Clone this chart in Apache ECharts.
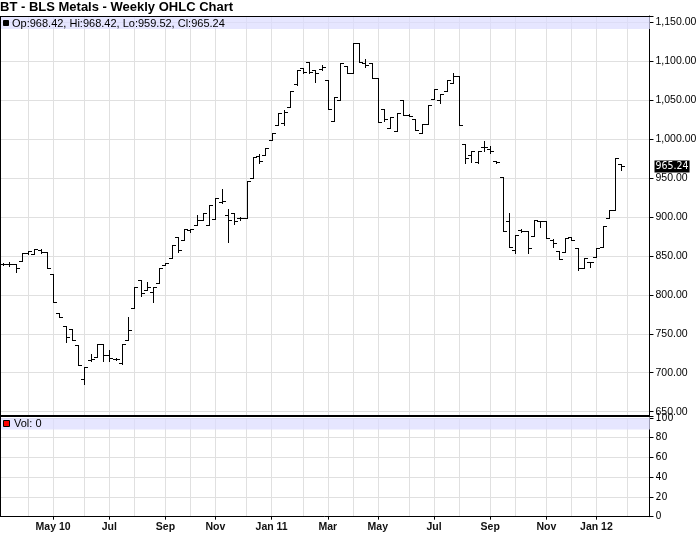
<!DOCTYPE html>
<html><head><meta charset="utf-8">
<script src="https://cdn.jsdelivr.net/npm/echarts@6/dist/echarts.min.js"></script>
<style>html,body{margin:0;padding:0;background:#fff}#c{width:700px;height:536px}</style>
</head><body><div id="c"></div>
<script>
const weekDates = [
'2010-03-08','2010-03-15','2010-03-22','2010-03-29','2010-04-05','2010-04-12','2010-04-19','2010-04-26',
'2010-05-03','2010-05-10','2010-05-17','2010-05-24','2010-05-31','2010-06-07','2010-06-14','2010-06-21','2010-06-28',
'2010-07-05','2010-07-12','2010-07-19','2010-07-26','2010-08-02','2010-08-09','2010-08-16','2010-08-23','2010-08-30',
'2010-09-06','2010-09-13','2010-09-20','2010-09-27','2010-10-04','2010-10-11','2010-10-18','2010-10-25',
'2010-11-01','2010-11-08','2010-11-15','2010-11-22','2010-11-29','2010-12-06','2010-12-13','2010-12-20','2010-12-27',
'2011-01-03','2011-01-10','2011-01-17','2011-01-24','2011-01-31','2011-02-07','2011-02-14','2011-02-21','2011-02-28',
'2011-03-07','2011-03-14','2011-03-21','2011-03-28','2011-04-04','2011-04-11','2011-04-18','2011-04-25',
'2011-05-02','2011-05-09','2011-05-16','2011-05-23','2011-05-30','2011-06-06','2011-06-13','2011-06-20','2011-06-27',
'2011-07-04','2011-07-11','2011-07-18','2011-07-25','2011-08-01','2011-08-08','2011-08-15','2011-08-22','2011-08-29',
'2011-09-05','2011-09-12','2011-09-19','2011-09-26','2011-10-03','2011-10-10','2011-10-17','2011-10-24','2011-10-31',
'2011-11-07','2011-11-14','2011-11-21','2011-11-28','2011-12-05','2011-12-12','2011-12-19','2011-12-26',
'2012-01-02','2012-01-09','2012-01-16','2012-01-23','2012-01-30','2012-02-06','2012-02-13','2012-02-20','2012-02-27'
];
const labelDates = ['2010-05-03','2010-07-05','2010-09-06','2010-11-01','2011-01-03','2011-03-07','2011-05-02','2011-07-04','2011-09-05','2011-11-07','2012-01-02'];
const tickLabels = ['May 10','Jul','Sep','Nov','Jan 11','Mar','May','Jul','Sep','Nov','Jan 12'];

const open = [840.0,839.5,839.5,843.8,853.2,852.3,858.0,854.5,826.7,776.2,
760.0,755.7,735.6,691.5,716.3,719.7,736.4,722.7,718.0,712.0,
742.0,782.6,819.0,806.1,804.0,814.7,838.2,846.8,874.6,870.3,
883.0,889.5,896.0,889.5,896.8,919.5,902.0,904.5,898.0,898.0,
949.4,978.0,980.0,999.0,1018.0,1020.0,1041.0,1071.0,1091.0,1099.0,
1088.0,1090.0,1075.0,1023.0,1050.0,1093.0,1085.0,1122.6,1097.0,1098.0,
1078.0,1038.0,1014.0,1010.0,1050.0,1031.0,1026.0,1007.0,1019.0,1051.0,
1050.0,1062.0,1072.0,1081.0,993.0,980.0,970.0,990.0,987.0,971.6,
951.5,895.0,858.0,883.0,882.0,875.5,894.7,894.7,870.0,856.6,
855.0,873.7,860.0,834.0,842.5,848.0,860.9,898.0,908.8,968.42];
const high = [841.0,842.0,839.5,853.2,856.6,858.3,858.5,854.5,826.7,776.2,
760.0,755.7,735.6,706.9,723.6,736.4,736.4,729.2,718.5,736.4,
772.0,810.4,819.0,816.8,810.4,834.0,840.4,863.9,874.6,884.0,
885.0,902.4,905.4,915.2,923.8,935.3,909.6,904.5,899.4,946.0,
977.2,981.0,988.0,1008.0,1033.0,1037.0,1061.0,1089.0,1091.0,1099.0,
1088.0,1095.0,1075.0,1054.0,1098.0,1093.0,1122.6,1122.6,1102.0,1098.0,
1078.0,1038.0,1028.0,1033.0,1050.0,1032.0,1026.0,1019.0,1043.5,1064.0,
1058.0,1075.0,1085.0,1081.0,993.0,985.0,985.0,997.3,990.9,971.6,
951.5,905.4,876.7,884.0,882.0,896.0,894.7,894.7,871.2,856.6,
872.5,873.7,860.0,846.8,842.5,860.5,888.7,908.8,975.1,968.42];
const low = [838.0,837.0,829.7,843.8,852.3,852.3,853.0,834.0,790.3,771.1,
739.9,742.0,709.9,685.5,715.5,719.7,715.5,715.5,716.0,711.2,
742.0,782.6,798.4,806.1,791.2,814.7,838.0,846.8,855.0,870.3,
880.0,889.5,896.0,889.5,896.8,918.0,867.3,890.4,896.0,898.0,
949.4,969.0,980.0,998.0,1018.0,1018.0,1041.0,1069.0,1084.0,1085.0,
1073.0,1088.0,1039.0,1023.0,1050.0,1085.0,1085.0,1099.0,1092.0,1078.0,
1022.0,1023.0,1014.0,1010.0,1031.0,1029.0,1012.0,1007.0,1019.0,1051.0,
1046.0,1062.0,1072.0,1018.0,969.5,970.8,969.5,984.9,981.4,969.5,
882.2,861.8,853.2,880.0,853.2,875.5,886.6,872.5,861.8,845.5,
855.0,870.2,831.8,834.0,835.3,848.0,860.9,898.0,908.8,959.52];
const close = [839.5,839.5,834.0,853.2,856.6,858.3,854.5,834.0,790.3,771.1,
746.3,742.0,709.9,706.9,717.2,736.4,722.7,718.5,717.0,736.4,
754.8,810.4,801.9,810.4,810.4,834.0,840.4,863.9,857.5,884.0,
884.0,896.0,905.0,915.2,923.8,920.0,896.0,895.0,899.0,946.0,
977.2,972.0,988.0,1008.0,1033.0,1035.0,1061.0,1089.0,1086.0,1086.0,
1085.0,1092.0,1039.0,1054.0,1098.0,1085.0,1122.6,1099.0,1095.0,1078.0,
1022.0,1025.0,1028.0,1033.0,1031.0,1030.0,1012.0,1019.0,1043.5,1064.0,
1058.0,1075.0,1081.0,1018.0,975.0,984.9,984.9,990.0,985.0,970.0,
882.2,861.8,876.7,882.0,859.6,896.0,894.7,872.5,866.0,845.5,
872.5,870.2,834.0,846.8,842.5,860.5,888.7,908.8,975.1,965.24];

const ohlc = open.map((o, i) => [i, o, high[i], low[i], close[i]]);
const last = ohlc.length - 1;
const f2 = v => v.toLocaleString('en-US', {minimumFractionDigits: 2, maximumFractionDigits: 2});
const isMonthStart = (idx, val) => parseInt(String(val).slice(8, 10), 10) <= 7;
const isLabeled = (idx, val) => labelDates.indexOf(val) >= 0;
const GRID = '#e0e0e0';
const FONT = 'Liberation Sans, Arial, sans-serif';
const NARROW = 'Liberation Sans Narrow, DejaVu Sans Condensed, Liberation Sans, sans-serif';

const chart = echarts.init(document.getElementById('c'), null, {renderer: 'canvas'});
const band = 6.28, nCat = weekDates.length;
const gLeft = -0.5 - band / 2, gWidth = band * nCat;

chart.setOption({
  animation: false,
  backgroundColor: '#fff',
  title: {text: 'BT - BLS Metals - Weekly OHLC Chart', left: 0, top: 0, padding: [1, 0, 0, 0],
    textStyle: {fontFamily: FONT, fontWeight: 'bold', fontSize: 13, color: '#000'}},
  grid: [
    {left: gLeft, top: 16, width: gWidth, height: 400},
    {left: gLeft, top: 418, width: gWidth, height: 98.7}
  ],
  xAxis: [
    {type: 'category', gridIndex: 0, data: weekDates, boundaryGap: true,
     axisLine: {show: false}, axisTick: {show: false}, axisLabel: {show: false},
     splitLine: {show: true, interval: isMonthStart, alignWithLabel: true, lineStyle: {color: GRID, width: 1}}},
    {type: 'category', gridIndex: 1, data: weekDates, boundaryGap: true,
     axisLine: {show: true, lineStyle: {color: '#000', width: 1}},
     axisTick: {show: true, interval: isLabeled, alignWithLabel: true, length: 3, lineStyle: {color: '#000'}},
     axisLabel: {interval: isLabeled, formatter: v => tickLabels[labelDates.indexOf(v)] || '',
       margin: 5, fontFamily: FONT, fontWeight: 'bold', fontSize: 10.5, color: '#111'},
     splitLine: {show: true, interval: isMonthStart, alignWithLabel: true, lineStyle: {color: GRID, width: 1}}}
  ],
  yAxis: [
    {type: 'value', gridIndex: 0, position: 'right', min: 644.5, max: 1157.7, splitNumber: 10,
     minInterval: 50, maxInterval: 50,
     axisLine: {show: true, onZero: false, lineStyle: {color: '#000', width: 1}},
     axisTick: {show: true, length: 4, lineStyle: {color: '#000'}},
     axisLabel: {margin: 6, fontFamily: FONT, fontSize: 10.5, color: '#000',
       formatter: v => (Math.abs(v / 50 - Math.round(v / 50)) < 1e-6 ? f2(v) : '')},
     splitLine: {show: true, lineStyle: {color: GRID, width: 1}}},
    {type: 'value', gridIndex: 1, position: 'right', min: 0, max: 100, interval: 20,
     axisLine: {show: true, onZero: false, lineStyle: {color: '#000', width: 1}},
     axisTick: {show: true, length: 4, lineStyle: {color: '#000'}},
     axisLabel: {margin: 6, fontFamily: NARROW, fontSize: 10.5, color: '#000'},
     splitLine: {show: true, lineStyle: {color: GRID, width: 1}}}
  ],
  series: [{
    type: 'custom', xAxisIndex: 0, yAxisIndex: 0, clip: true, z: 5,
    data: ohlc,
    encode: {x: 0, y: [1, 2, 3, 4]},
    renderItem: function (params, api) {
      const i = api.value(0);
      const pO = api.coord([i, api.value(1)]);
      const pH = api.coord([i, api.value(2)]);
      const pL = api.coord([i, api.value(3)]);
      const pC = api.coord([i, api.value(4)]);
      const x = Math.round(pH[0]) + 0.5;
      const yH = Math.round(pH[1]), yL = Math.round(pL[1]);
      const yO = Math.round(pO[1]) + 0.5, yC = Math.round(pC[1]) + 0.5;
      const st = {stroke: '#000', lineWidth: 1};
      return {type: 'group', children: [
        {type: 'line', shape: {x1: x, y1: yH, x2: x, y2: yL + 1}, style: st},
        {type: 'line', shape: {x1: x - 3.5, y1: yO, x2: x, y2: yO}, style: st},
        {type: 'line', shape: {x1: x, y1: yC, x2: x + 3.5, y2: yC}, style: st}
      ]};
    }
  }]
});

const lastPx = chart.convertToPixel({gridIndex: 0}, [last, close[last]]);
const axisX = chart.convertToPixel({gridIndex: 0}, [nCat - 1, close[last]])[0] + band / 2;

chart.setOption({
  graphic: [
    {type: 'rect', shape: {x: 0, y: 17, width: 650, height: 12}, style: {fill: 'rgba(220,220,255,0.7)'}, z: 1, silent: true},
    {type: 'rect', shape: {x: 0, y: 418, width: 650, height: 11.5}, style: {fill: 'rgba(220,220,255,0.7)'}, z: 1, silent: true},
    {type: 'line', shape: {x1: 0, y1: 16.5, x2: 650, y2: 16.5}, style: {stroke: '#000', lineWidth: 1}, z: 10, silent: true},
    {type: 'line', shape: {x1: 0.5, y1: 16, x2: 0.5, y2: 517}, style: {stroke: '#000', lineWidth: 1}, z: 10, silent: true},
    {type: 'rect', shape: {x: 0, y: 415, width: 650, height: 2}, style: {fill: '#000'}, z: 10, silent: true},
    {type: 'rect', shape: {x: 3.5, y: 20.5, width: 5, height: 5}, style: {fill: '#000', stroke: '#000', lineWidth: 1}, z: 10, silent: true},
    {type: 'text', x: 12, y: 23.5, z: 10, silent: true,
     style: {text: 'Op:' + f2(open[last]) + ', Hi:' + f2(high[last]) + ', Lo:' + f2(low[last]) + ', Cl:' + f2(close[last]),
       fill: '#000', font: '11px ' + FONT, verticalAlign: 'middle', align: 'left'}},
    {type: 'rect', shape: {x: 3.5, y: 420.5, width: 6, height: 6}, style: {fill: '#ff0000', stroke: '#000', lineWidth: 1}, z: 10, silent: true},
    {type: 'text', x: 14, y: 424, z: 10, silent: true,
     style: {text: 'Vol: 0', fill: '#000', font: '11px ' + FONT, verticalAlign: 'middle', align: 'left'}},
    {type: 'text', x: axisX + 5, y: Math.round(lastPx[1]) + 0.5, z: 20, silent: true,
     style: {text: f2(close[last]), fill: '#fff', backgroundColor: '#000', padding: [1, 1, 0, 1],
       font: '10.5px ' + NARROW, verticalAlign: 'middle', align: 'left'}}
  ]
});
</script></body></html>
